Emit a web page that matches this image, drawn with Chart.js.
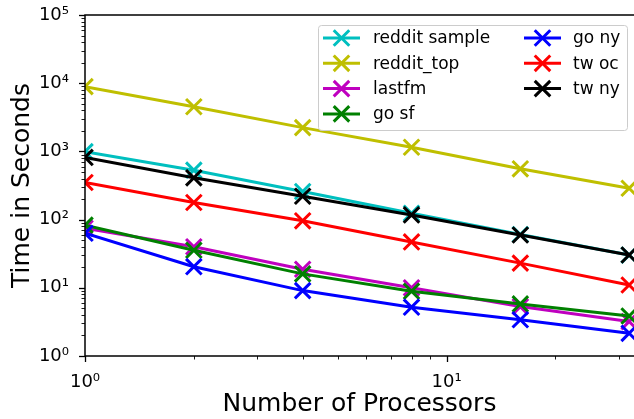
<!DOCTYPE html>
<html><head><meta charset="utf-8">
<script src="https://cdn.jsdelivr.net/npm/chart.js@4/dist/chart.umd.min.js"></script>
<style>html,body{margin:0;padding:0;background:#fff}#wrap{width:634px;height:419px;position:relative}</style>
</head><body><div id="wrap"><canvas id="c" width="634" height="419"></canvas></div>
<script>
const processors = [1, 2, 4, 8, 16, 32];
const seriesNames = ['reddit sample', 'reddit_top', 'lastfm', 'go sf', 'go ny', 'tw oc', 'tw ny'];
const redditSample = [990, 530, 258, 124, 60.5, 30.2];
const redditTop = [8900, 4520, 2230, 1150, 555, 288];
const lastfm = [75, 40, 18.7, 10, 5.3, 3.2];
const goSf = [83, 35.5, 16, 8.9, 5.8, 3.86];
const goNy = [63, 20.4, 9.1, 5.2, 3.4, 2.15];
const twOc = [350, 178, 96, 47, 23, 11];
const twNy = [815, 410, 220, 117, 59.5, 30.3];
const yTickLabels = ['10⁰', '10¹', '10²', '10³', '10⁴', '10⁵'];
const xTickLabels = ['10⁰', '10¹'];

const values = [redditSample, redditTop, lastfm, goSf, goNy, twOc, twNy];
const colors = ['#00bfbf', '#bfbf00', '#bf00bf', '#008000', '#0000ff', '#ff0000', '#000000'];
const FONT = "'DejaVu Sans', sans-serif";

function isDecade(v) { const l = Math.log10(v); return Math.abs(l - Math.round(l)) < 1e-9; }
function isNice(v) { const e = Math.floor(Math.log10(v) + 1e-9); const m = v / Math.pow(10, e); return Math.abs(m - Math.round(m)) < 1e-6; }

const datasets = seriesNames.map((n, i) => ({
  label: n,
  data: processors.map((p, j) => ({ x: p, y: values[i][j] })),
  borderColor: colors[i], backgroundColor: colors[i],
  borderWidth: 3, pointStyle: 'crossRot', pointRadius: 11, pointBorderWidth: 3,
  pointHoverRadius: 11, fill: false, tension: 0, order: seriesNames.length - i
}));

const axesPlugin = {
  id: 'axesPlugin',
  afterDatasetsDraw(chart) {
    const ctx = chart.ctx, a = chart.chartArea;
    const xs = chart.scales.x, ys = chart.scales.y;
    ctx.save();
    ctx.strokeStyle = '#000';
    ys.ticks.forEach(t => {
      if (!isNice(t.value)) return;
      const y = Math.round(ys.getPixelForValue(t.value)) + 0.5;
      const major = isDecade(t.value);
      ctx.lineWidth = major ? 1.3 : 0.9;
      ctx.beginPath(); ctx.moveTo(a.left, y); ctx.lineTo(a.left - (major ? 6 : 3.5), y); ctx.stroke();
    });
    xs.ticks.forEach(t => {
      if (!isNice(t.value) || t.value > xs.max) return;
      const x = Math.round(xs.getPixelForValue(t.value)) + 0.5;
      const major = isDecade(t.value);
      ctx.lineWidth = major ? 1.3 : 0.9;
      ctx.beginPath(); ctx.moveTo(x, a.bottom); ctx.lineTo(x, a.bottom + (major ? 6 : 3.5)); ctx.stroke();
    });
    ctx.lineWidth = 1.5;
    ctx.strokeRect(a.left, a.top, a.right - a.left + 4, a.bottom - a.top);
    // legend
    const bx = 318, by = 25, bw = 309, bh = 105;
    ctx.fillStyle = 'rgba(255,255,255,0.8)';
    ctx.strokeStyle = '#cccccc'; ctx.lineWidth = 1;
    ctx.beginPath();
    if (ctx.roundRect) ctx.roundRect(bx + 0.5, by + 0.5, bw, bh, 3); else ctx.rect(bx + 0.5, by + 0.5, bw, bh);
    ctx.fill(); ctx.stroke();
    ctx.font = '17px ' + FONT; ctx.textBaseline = 'middle'; ctx.textAlign = 'left';
    chart.data.datasets.forEach((ds, i) => {
      const col = i < 4 ? 0 : 1, row = i < 4 ? i : i - 4;
      const x0 = col === 0 ? 323 : 524, x1 = x0 + 37, y = 38 + row * 25.3;
      ctx.strokeStyle = ds.borderColor; ctx.lineWidth = 3;
      ctx.beginPath(); ctx.moveTo(x0, y); ctx.lineTo(x1, y); ctx.stroke();
      const r = 11 * Math.SQRT1_2, cx = (x0 + x1) / 2;
      ctx.beginPath(); ctx.moveTo(cx - r, y - r); ctx.lineTo(cx + r, y + r); ctx.moveTo(cx + r, y - r); ctx.lineTo(cx - r, y + r); ctx.stroke();
      ctx.fillStyle = '#000';
      ctx.fillText(ds.label, col === 0 ? 373 : 573, y + 1);
    });
    ctx.restore();
  }
};

new Chart(document.getElementById('c'), {
  type: 'line',
  data: { datasets },
  plugins: [axesPlugin],
  options: {
    responsive: false, animation: false, devicePixelRatio: 1,
    layout: { autoPadding: false, padding: { top: 15, right: 0, left: 0, bottom: 0 } },
    plugins: { legend: { display: false }, tooltip: { enabled: false } },
    scales: {
      x: {
        type: 'logarithmic', min: 1, max: 33,
        grid: { display: false }, border: { display: false },
        ticks: { autoSkip: false, maxRotation: 0, padding: 8, color: '#000', font: { family: FONT, size: 18 },
          callback: (v) => isDecade(v) ? xTickLabels[Math.round(Math.log10(v))] : '' },
        title: { display: true, text: 'Number of Processors', color: '#000', font: { family: FONT, size: 25 }, padding: { top: 0, bottom: 0 } },
        afterFit: (s) => { s.height = 63; s.paddingLeft = 0; s.paddingRight = 0; }
      },
      y: {
        type: 'logarithmic', min: 1, max: 100000,
        grid: { display: false }, border: { display: false },
        ticks: { autoSkip: false, padding: 8, color: '#000', font: { family: FONT, size: 18 },
          callback: (v) => isDecade(v) ? yTickLabels[Math.round(Math.log10(v))] : '' },
        title: { display: true, text: 'Time in Seconds', color: '#000', font: { family: FONT, size: 25 }, padding: { top: 7, bottom: 0 } },
        afterFit: (s) => { s.width = 85; s.paddingTop = 0; s.paddingBottom = 0; }
      }
    }
  }
});
</script></body></html>
